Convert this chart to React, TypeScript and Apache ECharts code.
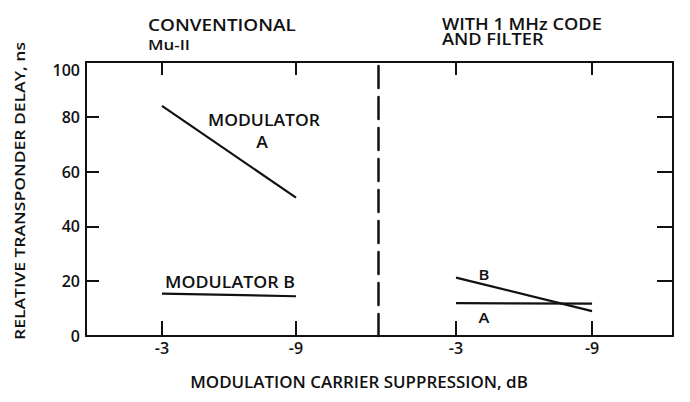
import React, { useEffect, useRef } from "react";
import * as echarts from "echarts";

const xTicks = [-3, -9];
const yTicks = [20, 40, 60, 80];
const conventionalModA = [[-3, 84], [-9, 50.5]];
const conventionalModB = [[-3, 15.5], [-9, 14.5]];
const filteredModA = [[-3, 12], [-9, 11.8]];
const filteredModB = [[-3, 21.3], [-9, 9.1]];
const panelTitles = [["CONVENTIONAL", "Mu-II"], ["WITH 1 MHz CODE", "AND FILTER"]];
const xTitle = "MODULATION CARRIER SUPPRESSION, dB";
const yTitle = "RELATIVE TRANSPONDER DELAY, ns";

const FONT = "Open Sans";
const INK = "#111";

function xAxisDef(grid: number, position: "top" | "bottom", min: number, max: number, tickLen: number, labels: boolean) {
  return {
    type: "value",
    gridIndex: grid,
    position,
    inverse: true,
    min,
    max,
    axisLine: { show: true, onZero: false, lineStyle: { color: INK, width: 2 } },
    axisTick: { show: true, inside: true, length: tickLen, customValues: xTicks, lineStyle: { color: INK, width: 2 } },
    axisLabel: labels
      ? { show: true, customValues: xTicks, formatter: (v: number) => String(v), color: INK, fontSize: 16, fontFamily: FONT, fontWeight: 600, margin: 4 }
      : { show: false },
    splitLine: { show: false },
  };
}

let measureCtx: CanvasRenderingContext2D | null = null;
function measure(text: string, font: string) {
  if (!measureCtx) measureCtx = document.createElement("canvas").getContext("2d");
  if (!measureCtx) return 1;
  measureCtx.font = font;
  return Math.max(...text.split("\n").map((t) => measureCtx!.measureText(t).width));
}

export default function App() {
  const ref = useRef<HTMLDivElement>(null);
  useEffect(() => {
    document.body.style.margin = "0";
    const chart = echarts.init(ref.current!, null, { renderer: "svg" });
    const lineSeries = (data: number[][], xi: number, yi: number) => ({
      type: "line",
      data,
      xAxisIndex: xi,
      yAxisIndex: yi,
      symbol: "none",
      lineStyle: { color: INK, width: 2.2 },
      silent: true,
    });
    const txt = (text: string, x: number, y: number, size: number, align: string, target: number | null, extra: any = {}) => {
      const font = `600 ${size}px '${FONT}'`;
      const sx = target ? target / measure(text, font) : 1;
      const style: any = { text, fill: INK, font, textAlign: align, textVerticalAlign: "middle" };
      if (extra.lineHeight) style.lineHeight = extra.lineHeight;
      return {
        type: "text",
        x,
        y,
        scaleX: sx,
        z: 10,
        style,
        rotation: extra.rotation || 0,
      };
    };
    const modScale = 112 / measure("MODULATOR", `600 16px '${FONT}'`);
    const yAxisBase = {
      type: "value",
      min: 0,
      max: 100,
      interval: 20,
      splitLine: { show: false },
    };
    chart.setOption({
      animation: false,
      textStyle: { fontFamily: FONT },
      grid: [
        { left: 86, top: 62, width: 292, height: 274 },
        { left: 378, top: 62, width: 295, height: 274 },
      ],
      xAxis: [
        xAxisDef(0, "bottom", -12.67, 0.4, 15, true),
        xAxisDef(0, "top", -12.67, 0.4, 13, false),
        xAxisDef(1, "bottom", -12.57, 0.44, 15, true),
        xAxisDef(1, "top", -12.57, 0.44, 13, false),
      ],
      yAxis: [
        {
          ...yAxisBase,
          gridIndex: 0,
          position: "left",
          axisLine: { show: true, onZero: false, lineStyle: { color: INK, width: 2 } },
          axisTick: { show: true, inside: true, length: 13, customValues: yTicks, lineStyle: { color: INK, width: 2 } },
          axisLabel: {
            color: INK,
            fontSize: 16,
            fontFamily: FONT,
            fontWeight: 600,
            margin: 6,
            showMinLabel: true,
            showMaxLabel: true,
            formatter: (v: number) => (v === 100 ? "{t|100}" : String(v)),
            rich: { t: { fontSize: 16, fontFamily: FONT, fontWeight: 600, color: INK, padding: [16, 0, 0, 0] } },
          },
        },
        {
          ...yAxisBase,
          gridIndex: 1,
          position: "left",
          axisLine: { show: true, onZero: false, lineStyle: { color: INK, width: 2.5, type: [22, 9] } },
          axisTick: { show: false },
          axisLabel: { show: false },
        },
        {
          ...yAxisBase,
          gridIndex: 1,
          position: "right",
          axisLine: { show: true, onZero: false, lineStyle: { color: INK, width: 2 } },
          axisTick: { show: true, inside: true, length: 16, customValues: yTicks, lineStyle: { color: INK, width: 2 } },
          axisLabel: { show: false },
        },
      ],
      series: [
        lineSeries(conventionalModA, 0, 0),
        lineSeries(conventionalModB, 0, 0),
        lineSeries(filteredModA, 2, 2),
        lineSeries(filteredModB, 2, 2),
      ],
      graphic: [
        txt(panelTitles[0][0], 148, 24.5, 16, "left", 148),
        txt(panelTitles[0][1], 148, 45, 14, "left", 42),
        txt(panelTitles[1].join("\n"), 442, 31.5, 16, "left", 160, { lineHeight: 15 }),
        { ...txt("MODULATOR", 264, 120, 16, "center", null), scaleX: modScale },
        { ...txt("A", 262, 142, 16, "center", null), scaleX: modScale },
        txt("MODULATOR B", 230, 282, 16, "center", 130),
        { ...txt("B", 484, 274, 15, "center", null), scaleX: modScale },
        { ...txt("A", 484, 317, 15, "center", null), scaleX: modScale },
        txt(xTitle, 359, 381.5, 16, "center", 338),
        txt(yTitle, 19.5, 191, 15, "center", 298, { rotation: Math.PI / 2 }),
      ],
    });
    return () => chart.dispose();
  }, []);
  return <div ref={ref} style={{ width: 690, height: 402 }} />;
}
